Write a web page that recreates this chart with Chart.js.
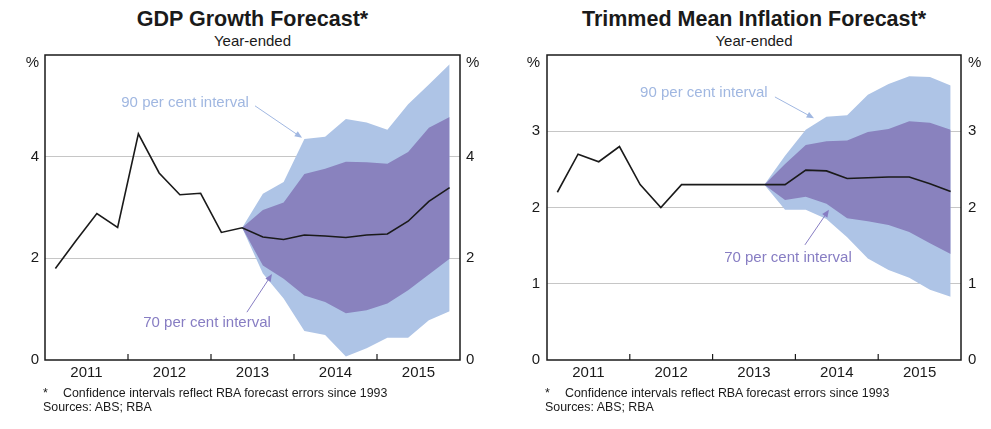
<!DOCTYPE html>
<html>
<head>
<meta charset="utf-8">
<script src="https://cdn.jsdelivr.net/npm/chart.js@4.4.1/dist/chart.umd.min.js"></script>
<style>
  body { margin: 0; background: #fff; font-family: "Liberation Sans", Arial, sans-serif; color: #1a1a1a; }
  #page { position: relative; width: 991px; height: 429px; overflow: hidden; }
  .panel { position: absolute; top: 0; height: 429px; }
  .panel canvas { position: absolute; left: 0; top: 0; }
  .title { position: absolute; text-align: center; font-weight: bold; font-size: 21.5px; top: 7px; white-space: nowrap; }
  .sub { position: absolute; text-align: center; font-size: 15px; top: 32px; }
  .note { position: absolute; font-size: 12.4px; line-height: 14px; top: 386px; white-space: nowrap; }
  .note .star { display: inline-block; width: 20px; }
</style>
</head>
<body>
<div id="page">
  <div class="panel" style="left:0;width:495px">
    <div class="title" style="left:45px;width:415px">GDP Growth Forecast*</div>
    <div class="sub" style="left:45px;width:415px">Year-ended</div>
    <canvas id="ChartGdp" width="495" height="429"></canvas>
    <div class="note" style="left:43px"><span class="star">*</span>Confidence intervals reflect RBA forecast errors since 1993<br>Sources: ABS; RBA</div>
  </div>
  <div class="panel" style="left:495px;width:496px">
    <div class="title" style="left:52px;width:414px">Trimmed Mean Inflation Forecast*</div>
    <div class="sub" style="left:52px;width:414px">Year-ended</div>
    <canvas id="ChartInflation" width="496" height="429"></canvas>
    <div class="note" style="left:50px"><span class="star">*</span>Confidence intervals reflect RBA forecast errors since 1993<br>Sources: ABS; RBA</div>
  </div>
</div>

<script>
// Kuartal (Mar 2011 - Des 2015) dan label tahun pada sumbu x
const quarters = [
  'Mar-2011', 'Jun-2011', 'Sep-2011', 'Dec-2011',
  'Mar-2012', 'Jun-2012', 'Sep-2012', 'Dec-2012',
  'Mar-2013', 'Jun-2013', 'Sep-2013', 'Dec-2013',
  'Mar-2014', 'Jun-2014', 'Sep-2014', 'Dec-2014',
  'Mar-2015', 'Jun-2015', 'Sep-2015', 'Dec-2015'
];
const yearLabels = ['2011', '2012', '2013', '2014', '2015'];
const gdpTicks = [0, 2, 4, 6];
const inflationTicks = [0, 1, 2, 3, 4];

// GDP growth, year-ended (%)
const gdpLine = [1.80, 2.35, 2.88, 2.61, 4.45, 3.68, 3.25, 3.28, 2.51, 2.60,
                 2.42, 2.37, 2.46, 2.44, 2.41, 2.46, 2.48, 2.73, 3.12, 3.39];
const gdpHi90 = [null, null, null, null, null, null, null, null, null, 2.60,
                 3.27, 3.50, 4.35, 4.39, 4.74, 4.67, 4.53, 5.03, 5.42, 5.82];
const gdpHi70 = [null, null, null, null, null, null, null, null, null, 2.60,
                 2.95, 3.10, 3.66, 3.76, 3.90, 3.89, 3.86, 4.09, 4.57, 4.78];
const gdpLo70 = [null, null, null, null, null, null, null, null, null, 2.60,
                 1.86, 1.60, 1.27, 1.14, 0.92, 0.98, 1.11, 1.37, 1.68, 1.99];
const gdpLo90 = [null, null, null, null, null, null, null, null, null, 2.60,
                 1.70, 1.21, 0.57, 0.49, 0.07, 0.23, 0.44, 0.44, 0.78, 0.96];

// Trimmed mean inflation, year-ended (%)
const inflationLine = [2.20, 2.70, 2.60, 2.80, 2.30, 2.00, 2.30, 2.30, 2.30, 2.30,
                       2.30, 2.30, 2.49, 2.48, 2.38, 2.39, 2.40, 2.40, 2.31, 2.21];
const inflationHi90 = [null, null, null, null, null, null, null, null, null, null,
                       2.30, 2.68, 3.02, 3.19, 3.21, 3.48, 3.62, 3.72, 3.71, 3.60];
const inflationHi70 = [null, null, null, null, null, null, null, null, null, null,
                       2.30, 2.57, 2.82, 2.87, 2.88, 2.99, 3.03, 3.13, 3.11, 3.02];
const inflationLo70 = [null, null, null, null, null, null, null, null, null, null,
                       2.30, 2.10, 2.14, 2.05, 1.86, 1.82, 1.77, 1.68, 1.53, 1.39];
const inflationLo90 = [null, null, null, null, null, null, null, null, null, null,
                       2.30, 1.97, 1.97, 1.85, 1.61, 1.33, 1.18, 1.08, 0.92, 0.83];

const FONT = '"Liberation Sans", Arial, sans-serif';
const INK = '#1a1a1a';
const BLUE_FILL = 'rgb(174,196,230)';
const PURPLE_FILL = 'rgb(137,130,190)';
const BLUE_TEXT = 'rgb(160,183,225)';
const PURPLE_TEXT = 'rgb(135,125,195)';

// Setiap kuartal diletakkan di tengah periodenya (0.5, 1.5, ...)
function toPoints(values) {
  return values.map((v, i) => ({ x: i + 0.5, y: v }));
}

// Plugin: bingkai, tanda tahun, tanda %, dan anotasi interval
const framePlugin = {
  id: 'frame',
  afterDatasetsDraw(chart, args, opts) {
    const { ctx, chartArea: a, scales } = chart;
    ctx.save();
    ctx.strokeStyle = INK;
    ctx.lineWidth = 1.5;
    ctx.strokeRect(a.left, a.top, a.right - a.left, a.bottom - a.top);

    // tanda batas tahun, mengarah ke dalam
    ctx.lineWidth = 1.2;
    for (let v of [4, 8, 12, 16]) {
      const px = scales.x.getPixelForValue(v);
      ctx.beginPath();
      ctx.moveTo(px, a.bottom);
      ctx.lineTo(px, a.bottom - 6);
      ctx.stroke();
    }

    ctx.fillStyle = INK;
    ctx.font = '15px ' + FONT;
    ctx.textBaseline = 'middle';
    ctx.textAlign = 'right';
    ctx.fillText('%', a.left - opts.pad, a.top + 8);
    ctx.textAlign = 'left';
    ctx.fillText('%', a.right + opts.pad, a.top + 8);

    // anotasi dengan panah
    for (let n of opts.notes) {
      const tx = scales.x.getPixelForValue(n.x);
      const ty = scales.y.getPixelForValue(n.y);
      ctx.fillStyle = n.color;
      ctx.strokeStyle = n.color;
      ctx.font = '15px ' + FONT;
      ctx.textAlign = 'center';
      ctx.fillText(n.text, tx, ty);

      const x1 = scales.x.getPixelForValue(n.from[0]);
      const y1 = scales.y.getPixelForValue(n.from[1]);
      const x2 = scales.x.getPixelForValue(n.to[0]);
      const y2 = scales.y.getPixelForValue(n.to[1]);
      const ang = Math.atan2(y2 - y1, x2 - x1);
      ctx.lineWidth = 1;
      ctx.beginPath();
      ctx.moveTo(x1, y1);
      ctx.lineTo(x2 - 5 * Math.cos(ang), y2 - 5 * Math.sin(ang));
      ctx.stroke();
      ctx.beginPath();
      ctx.moveTo(x2, y2);
      ctx.lineTo(x2 - 8 * Math.cos(ang - 0.4), y2 - 8 * Math.sin(ang - 0.4));
      ctx.lineTo(x2 - 8 * Math.cos(ang + 0.4), y2 - 8 * Math.sin(ang + 0.4));
      ctx.closePath();
      ctx.fill();
    }
    ctx.restore();
  }
};

function buildChart(id, cfg) {
  const ctx = document.getElementById(id).getContext('2d');
  const yMax = cfg.ticks[cfg.ticks.length - 1];
  const tickFont = { family: FONT, size: 15 };

  return new Chart(ctx, {
    type: 'line',
    data: {
      datasets: [
        { data: toPoints(cfg.line), borderColor: INK, borderWidth: 1.6, pointRadius: 0, fill: false },
        { data: toPoints(cfg.hi70), borderColor: 'rgba(0,0,0,0)', borderWidth: 0, pointRadius: 0,
          backgroundColor: PURPLE_FILL, fill: '+1' },
        { data: toPoints(cfg.lo70), borderColor: 'rgba(0,0,0,0)', borderWidth: 0, pointRadius: 0, fill: false },
        { data: toPoints(cfg.hi90), borderColor: 'rgba(0,0,0,0)', borderWidth: 0, pointRadius: 0,
          backgroundColor: BLUE_FILL, fill: '+1' },
        { data: toPoints(cfg.lo90), borderColor: 'rgba(0,0,0,0)', borderWidth: 0, pointRadius: 0, fill: false }
      ]
    },
    options: {
      responsive: false,
      animation: false,
      layout: { padding: { top: 55, left: 0, right: 0, bottom: 0 } },
      plugins: {
        legend: { display: false },
        tooltip: { enabled: false },
        frame: { notes: cfg.notes, pad: cfg.pad }
      },
      scales: {
        x: {
          type: 'linear', min: 0, max: quarters.length,
          afterBuildTicks: s => { s.ticks = [2, 6, 10, 14, 18].map(v => ({ value: v })); },
          afterFit: s => { s.height = 69; },
          grid: { display: false, drawTicks: false },
          border: { display: false },
          ticks: {
            font: tickFont, color: INK, padding: 4, maxRotation: 0, autoSkip: false,
            callback: v => yearLabels[(v - 2) / 4]
          }
        },
        y: {
          position: 'left', min: 0, max: yMax,
          afterBuildTicks: s => { s.ticks = cfg.ticks.map(v => ({ value: v })); },
          afterFit: s => { s.width = cfg.leftW; },
          grid: {
            drawTicks: false, lineWidth: 1,
            color: c => (c.tick && c.tick.value > 0 && c.tick.value < yMax) ? '#c6c6c6' : 'rgba(0,0,0,0)'
          },
          border: { display: false },
          ticks: { font: tickFont, color: INK, padding: cfg.pad, callback: v => v === yMax ? '' : v }
        },
        y2: {
          position: 'right', min: 0, max: yMax,
          afterBuildTicks: s => { s.ticks = cfg.ticks.map(v => ({ value: v })); },
          afterFit: s => { s.width = cfg.rightW; },
          grid: { display: false, drawTicks: false },
          border: { display: false },
          ticks: { font: tickFont, color: INK, padding: cfg.pad, callback: v => v === yMax ? '' : v }
        }
      }
    },
    plugins: [framePlugin]
  });
}

let ChartGdp = buildChart('ChartGdp', {
  line: gdpLine, hi90: gdpHi90, hi70: gdpHi70, lo70: gdpLo70, lo90: gdpLo90,
  ticks: gdpTicks, leftW: 45, rightW: 35, pad: 6,
  notes: [
    { text: '90 per cent interval', color: BLUE_TEXT, x: 6.75, y: 5.06, from: [10.12, 5.0], to: [12.39, 4.37] },
    { text: '70 per cent interval', color: PURPLE_TEXT, x: 7.81, y: 0.73, from: [9.73, 0.94], to: [10.94, 1.69] }
  ]
});

let ChartInflation = buildChart('ChartInflation', {
  line: inflationLine, hi90: inflationHi90, hi70: inflationHi70, lo70: inflationLo70, lo90: inflationLo90,
  ticks: inflationTicks, leftW: 52, rightW: 30, pad: 7,
  notes: [
    { text: '90 per cent interval', color: BLUE_TEXT, x: 7.58, y: 3.51, from: [11.01, 3.45], to: [12.9, 3.17] },
    { text: '70 per cent interval', color: PURPLE_TEXT, x: 11.64, y: 1.34, from: [12.46, 1.51], to: [13.62, 1.97] }
  ]
});
</script>
</body>
</html>
